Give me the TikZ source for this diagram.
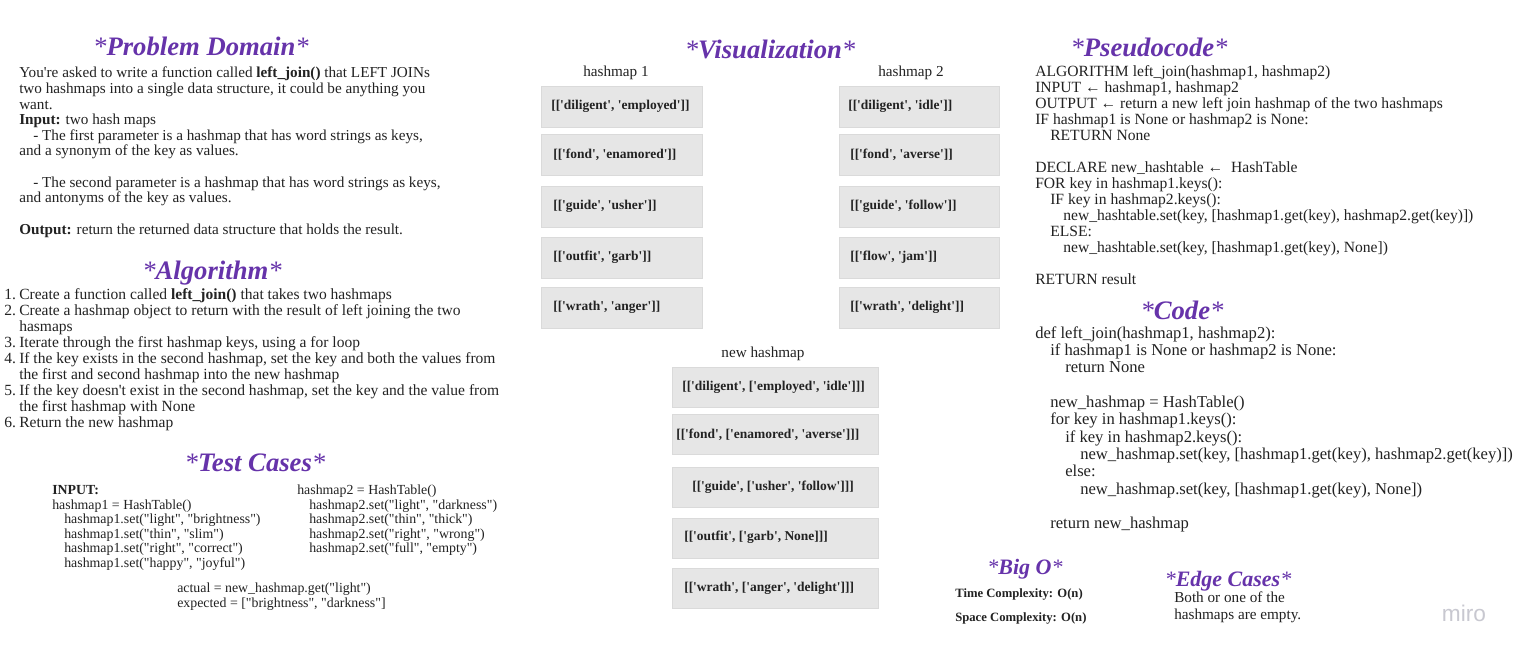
\documentclass[tikz,border=0pt]{standalone}
\usepackage{fontspec}
\setmainfont{Liberation Serif}[Ligatures=TeXOff]
\newfontfamily\mirofont{Liberation Sans}
\definecolor{hpurple}{RGB}{102,51,170}
\definecolor{boxgray}{RGB}{230,230,230}
\definecolor{boxedge}{RGB}{218,218,218}
\definecolor{ink}{RGB}{34,34,34}
\definecolor{mirogray}{RGB}{200,200,208}
\newcommand{\hs}{{\mdseries *}}
\newcommand{\mylines}[6]{\foreach \lineitem [count=\i from 0] in {#6} {\node[#2] (#1-\i) at (#3,{#4+\i*#5}) {\lineitem};}}
\begin{document}
\begin{tikzpicture}[x=0.75pt,y=-0.75pt,
 head/.style={anchor=base,inner sep=0,text=hpurple,font=\fontsize{20}{24}\selectfont\bfseries\itshape},
 subhead/.style={head,font=\fontsize{16.5}{20}\selectfont\bfseries\itshape},
 body/.style={anchor=base west,inner sep=0,text=ink,font=\fontsize{11.4}{13}\selectfont},
 algo/.style={body,font=\fontsize{11.65}{14}\selectfont},
 tc/.style={body,font=\fontsize{10.4}{12}\selectfont},
 pseudo/.style={body,font=\fontsize{11.7}{14}\selectfont},
 code/.style={body,font=\fontsize{12.45}{15}\selectfont},
 lcell/.style={anchor=north west,inner sep=0,fill=boxgray,draw=boxedge,line width=0.6pt,minimum width=120.75pt,minimum height=30.4pt},
 rcell/.style={lcell,minimum width=120pt},
 ncell/.style={lcell,minimum width=154.5pt,minimum height=30.2pt},
 celltext/.style={anchor=west,inner sep=0,text=ink,font=\fontsize{10.1}{12}\selectfont\bfseries},
 collabel/.style={anchor=base,inner sep=0,text=ink,font=\fontsize{11.4}{13}\selectfont},
 bigo/.style={anchor=base west,inner sep=0,text=ink,font=\fontsize{9.5}{12}\selectfont\bfseries}]
\fill[white] (0,0) rectangle (1523,656);
\useasboundingbox (0,0) rectangle (1523,656);

% ---------- Problem Domain ----------
\node[head] (pdh) at (201,56) {\hs Problem Domain\hs};
\mylines{pd}{body}{19}{78}{15.6}{%
 {You're asked to write a function called \textbf{left\_join()} that LEFT JOINs},
 {two hashmaps into a single data structure, it could be anything you},
 {want.},
 {\textbf{Input:} two hash maps},
 {\hspace*{10.5pt}- The first parameter is a hashmap that has word strings as keys,},
 {and a synonym of the key as values.},
 {},
 {\hspace*{10.5pt}- The second parameter is a hashmap that has word strings as keys,},
 {and antonyms of the key as values.},
 {},
 {\textbf{Output:} return the returned data structure that holds the result.}}

% ---------- Algorithm ----------
\node[head] (alh) at (212,279) {\hs Algorithm\hs};
\mylines{aln}{algo}{4}{299}{16}{{1.},{2.},{},{3.},{4.},{},{5.},{},{6.}}
\mylines{al}{algo}{19}{299}{16}{%
 {Create a function called \textbf{left\_join()} that takes two hashmaps},
 {Create a hashmap object to return with the result of left joining the two},
 {hasmaps},
 {Iterate through the first hashmap keys, using a for loop},
 {If the key exists in the second hashmap, set the key and both the values from},
 {the first and second hashmap into the new hashmap},
 {If the key doesn't exist in the second hashmap, set the key and the value from},
 {the first hashmap with None},
 {Return the new hashmap}}

% ---------- Test Cases ----------
\node[head] (tch) at (255,471) {\hs Test Cases\hs};
\node[tc] (tcin) at (52,494.5) {\textbf{INPUT:}};
\node[tc] (tcm1) at (52,509.1) {hashmap1 = HashTable()};
\mylines{tca}{tc}{64}{523.7}{14.6}{%
 {hashmap1.set("light", "brightness")},
 {hashmap1.set("thin", "slim")},
 {hashmap1.set("right", "correct")},
 {hashmap1.set("happy", "joyful")}}
\node[tc] (tcm2) at (297,494.5) {hashmap2 = HashTable()};
\mylines{tcb}{tc}{309}{509.1}{14.6}{%
 {hashmap2.set("light", "darkness")},
 {hashmap2.set("thin", "thick")},
 {hashmap2.set("right", "wrong")},
 {hashmap2.set("full", "empty")}}
\node[tc] (tcact) at (177,592.5) {actual = new\_hashmap.get("light")};
\node[tc] (tcexp) at (177,607.1) {expected = ["brightness", "darkness"]};

% ---------- Visualization ----------
\node[head] (vih) at (770,59) {\hs Visualization\hs};
\node[collabel] (h1lab) at (616,77) {hashmap 1};
\node[collabel] (h2lab) at (911,77) {hashmap 2};
\node[lcell] (l1) at (541,86) {};
\node[lcell] (l2) at (541,134) {};
\node[lcell] (l3) at (541,186) {};
\node[lcell] (l4) at (541,237) {};
\node[lcell] (l5) at (541,287) {};
\node[celltext] (l1t) at (551,106) {[['diligent', 'employed']]};
\node[celltext] (l2t) at (553,154.5) {[['fond', 'enamored']]};
\node[celltext] (l3t) at (553,206.5) {[['guide', 'usher']]};
\node[celltext] (l4t) at (553,257.5) {[['outfit', 'garb']]};
\node[celltext] (l5t) at (553,307.5) {[['wrath', 'anger']]};
\node[rcell] (r1) at (839,86) {};
\node[rcell] (r2) at (839,134) {};
\node[rcell] (r3) at (839,186) {};
\node[rcell] (r4) at (839,237) {};
\node[rcell] (r5) at (839,287) {};
\node[celltext] (r1t) at (848,106) {[['diligent', 'idle']]};
\node[celltext] (r2t) at (850,154.5) {[['fond', 'averse']]};
\node[celltext] (r3t) at (850,206.5) {[['guide', 'follow']]};
\node[celltext] (r4t) at (850,257.5) {[['flow', 'jam']]};
\node[celltext] (r5t) at (850,307.5) {[['wrath', 'delight']]};
\node[collabel] (nlab) at (763,357) {new hashmap};
\node[ncell] (n1) at (672,367) {};
\node[ncell] (n2) at (672,414) {};
\node[ncell] (n3) at (672,467) {};
\node[ncell] (n4) at (672,518) {};
\node[ncell] (n5) at (672,568) {};
\node[celltext] (n1t) at (682,387) {[['diligent', ['employed', 'idle']]]};
\node[celltext] (n2t) at (676,434.5) {[['fond', ['enamored', 'averse']]]};
\node[celltext] (n3t) at (692,487.5) {[['guide', ['usher', 'follow']]]};
\node[celltext] (n4t) at (684,537.5) {[['outfit', ['garb', None]]]};
\node[celltext] (n5t) at (684,588) {[['wrath', ['anger', 'delight']]]};

% ---------- Pseudocode ----------
\node[head] (psh) at (1149,57) {\hs Pseudocode\hs};
\mylines{ps}{pseudo}{1035}{76.5}{16}{%
 {ALGORITHM left\_join(hashmap1, hashmap2)},
 {INPUT ← hashmap1, hashmap2},
 {OUTPUT ← return a new left join hashmap of the two hashmaps},
 {IF hashmap1 is None or hashmap2 is None:},
 {\hspace*{11.25pt}RETURN None},
 {},
 {DECLARE new\_hashtable ← \ HashTable},
 {FOR key in hashmap1.keys():},
 {\hspace*{11.25pt}IF key in hashmap2.keys():},
 {\hspace*{21pt}new\_hashtable.set(key, [hashmap1.get(key), hashmap2.get(key)])},
 {\hspace*{11.25pt}ELSE:},
 {\hspace*{21pt}new\_hashtable.set(key, [hashmap1.get(key), None])},
 {},
 {RETURN result}}

% ---------- Code ----------
\node[head] (coh) at (1182,319) {\hs Code\hs};
\mylines{co}{code}{1035}{338}{17.36}{%
 {def left\_join(hashmap1, hashmap2):},
 {\hspace*{11.25pt}if hashmap1 is None or hashmap2 is None:},
 {\hspace*{22.5pt}return None},
 {},
 {\hspace*{11.25pt}new\_hashmap = HashTable()},
 {\hspace*{11.25pt}for key in hashmap1.keys():},
 {\hspace*{22.5pt}if key in hashmap2.keys():},
 {\hspace*{33.75pt}new\_hashmap.set(key, [hashmap1.get(key), hashmap2.get(key)])},
 {\hspace*{22.5pt}else:},
 {\hspace*{33.75pt}new\_hashmap.set(key, [hashmap1.get(key), None])},
 {},
 {\hspace*{11.25pt}return new\_hashmap}}

% ---------- Big O ----------
\node[subhead] (boh) at (1025,574) {\hs Big O\hs};
\node[bigo] (tcx) at (955,597) {Time Complexity: O(n)};
\node[bigo] (scx) at (955,621) {Space Complexity: O(n)};

% ---------- Edge Cases ----------
\node[subhead] (ech) at (1228,586) {\hs Edge Cases\hs};
\mylines{ec}{body}{1174}{602}{17.5}{{Both or one of the},{hashmaps are empty.}}

% ---------- watermark ----------
\node[inner sep=0,text=mirogray,font=\mirofont\fontsize{17}{20}\selectfont] (miro) at (1464,613) {miro};
\end{tikzpicture}
\end{document}
